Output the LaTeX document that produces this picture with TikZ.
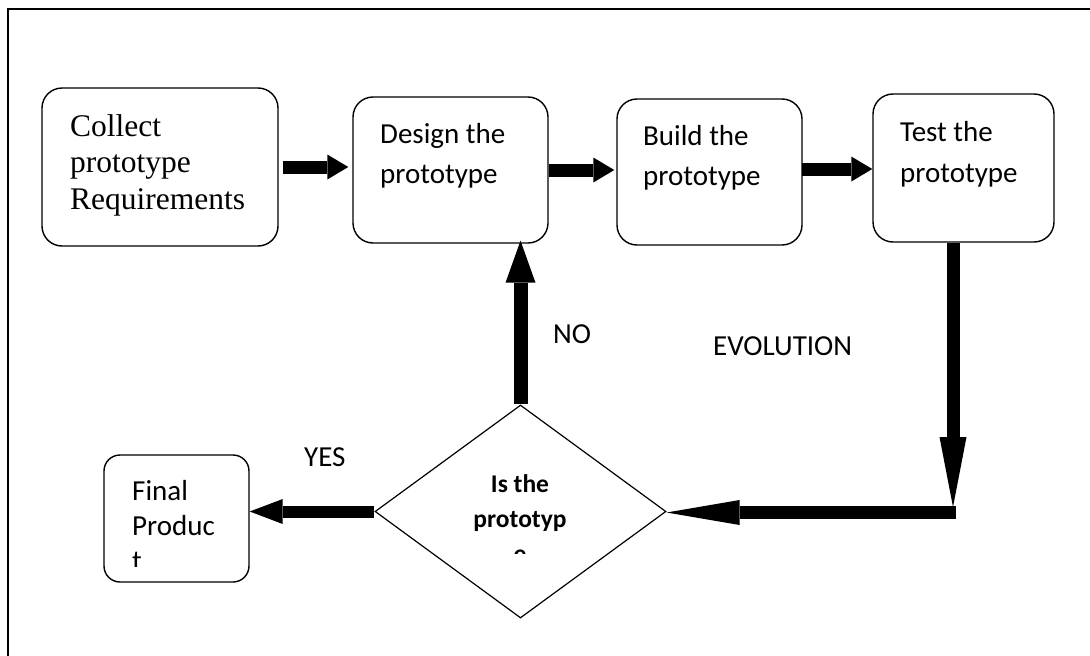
\documentclass[tikz,border=0pt]{standalone}
\usepackage{fontspec}
\setmainfont{Liberation Serif}
\newfontfamily\calib{Carlito}
\usetikzlibrary{arrows.meta,shapes.geometric}
\begin{document}
\begin{tikzpicture}[x=1pt,y=-1pt,
  box/.style={draw, line width=1.4pt, rounded corners=20pt, rectangle, inner sep=0pt},
  dia/.style={draw, line width=1.2pt, diamond, inner sep=0pt},
  lbl/.style={anchor=base west, inner sep=0pt, font=\calib\fontsize{29}{35}\selectfont},
  serlbl/.style={anchor=base west, inner sep=0pt, font=\fontsize{31.5}{37}\selectfont},
  boldlbl/.style={anchor=base, inner sep=0pt, font=\calib\bfseries\fontsize{25.5}{30}\selectfont},
  blk/.style={line width=13pt, line cap=butt}
]
\useasboundingbox (0,0) rectangle (1090,656);
% frame
\draw[line width=2pt] (8,656) -- (8,9) -- (1090,9);

% boxes
\node[box, minimum width=236pt, minimum height=158pt] (collect) at (160,167) {};
\node[box, minimum width=195pt, minimum height=146pt] (design) at (450.5,170) {};
\node[box, minimum width=185pt, minimum height=146pt] (build) at (709.5,172) {};
\node[box, minimum width=181pt, minimum height=148pt] (test) at (963.5,168) {};
\node[box, rounded corners=16pt, minimum width=145pt, minimum height=127pt] (final) at (176.5,518.5) {};
\node[dia, minimum width=291pt, minimum height=213pt] (dec) at (520.5,511.5) {};

% texts
\node[serlbl] (c1) at (70,136) {Collect};
\node[serlbl] (c2) at (70,172) {prototype};
\node[serlbl] (c3) at (70,209) {Requirements};
\node[lbl] (d1) at (380,143) {Design the};
\node[lbl] (d2) at (380,183) {prototype};
\node[lbl] (b1) at (643,145) {Build the};
\node[lbl] (b2) at (643,185) {prototype};
\node[lbl] (t1) at (900,141) {Test the};
\node[lbl] (t2) at (900,182) {prototype};
\node[lbl] (f1) at (132,500) {Final};
\node[lbl] (f2) at (132,535) {Produc};
\begin{scope}
  \clip (100,545) rectangle (250,566);
  \node[lbl] (f3) at (132,570) {t};
\end{scope}
\node[boldlbl] (q1) at (520,492) {Is the};
\node[boldlbl] (q2) at (520,527) {prototyp};
\begin{scope}
  \clip (480,535) rectangle (560,553);
  \node[boldlbl] (q3) at (520,562) {e};
\end{scope}
\node[lbl] (no) at (553,343) {NO};
\node[lbl] (evo) at (713,355) {EVOLUTION};
\node[lbl] (yes) at (304,466) {YES};

% connectors
\coordinate (dtip) at (953,507);
\coordinate (corner) at (956,512.5);
\draw[blk, -{Triangle[length=21pt,width=25pt,line width=0pt]}, shorten <=4pt, shorten >=4pt]
  (collect.east) -- (collect.east -| design.west);
\draw[blk, -{Triangle[length=21pt,width=25pt,line width=0pt]}, shorten >=2pt]
  (design.east) -- (design.east -| build.west);
\draw[blk, -{Triangle[length=21pt,width=25pt,line width=0pt]}, shorten <=-1pt]
  ([yshift=3pt]build.east) -- ([yshift=3pt]build.east -| test.west);
\draw[blk, -{Triangle[length=70pt,width=27pt,line width=0pt]}]
  (test.south -| dtip) -- (dtip);
\draw[blk, -{Triangle[length=73pt,width=25pt,line width=0pt]}]
  (corner) -- (corner -| dec.east);
\draw[line width=14pt, line cap=butt, -{Triangle[length=42pt,width=30pt,line width=0pt]}, shorten >=-3pt]
  (dec.north) -- (dec.north |- design.south);
\draw[line width=12pt, line cap=butt, -{Triangle[length=33pt,width=25pt,line width=0pt]}]
  (dec.west) -- (dec.west -| final.east);
\end{tikzpicture}
\end{document}
